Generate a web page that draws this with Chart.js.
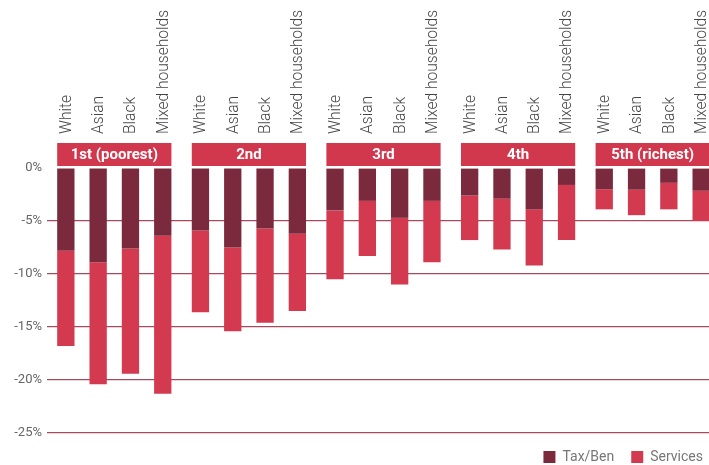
<!DOCTYPE html>
<html>
<head>
<meta charset="utf-8">
<script src="https://cdn.jsdelivr.net/npm/chart.js@4"></script>
<style>
  html, body { margin: 0; padding: 0; overflow: hidden; background: #fff; }
  #wrap { width: 720px; height: 474px; }
</style>
</head>
<body>
<div id="wrap"><canvas id="chart" width="720" height="474"></canvas></div>
<script>
// Quintiles and household groups
const quintiles = ['1st (poorest)', '2nd', '3rd', '4th', '5th (richest)'];
const groups = ['White', 'Asian', 'Black', 'Mixed households'];

// Tax/Ben part of each bar, one value per quintile
const taxBenWhite = [-7.8, -5.9, -4.0, -2.6, -2.0];
const taxBenAsian = [-8.9, -7.5, -3.1, -2.9, -2.05];
const taxBenBlack = [-7.6, -5.7, -4.7, -3.9, -1.4];
const taxBenMixed = [-6.4, -6.2, -3.1, -1.6, -2.15];

// Services part of each bar (stacked below Tax/Ben)
const servicesWhite = [-9.0, -7.7, -6.5, -4.2, -1.9];
const servicesAsian = [-11.5, -7.9, -5.2, -4.8, -2.4];
const servicesBlack = [-11.8, -8.9, -6.3, -5.3, -2.5];
const servicesMixed = [-14.9, -7.3, -5.8, -5.2, -2.85];

const yTicks = [0, -5, -10, -15, -20, -25];

const taxBenColor = '#7a2a3c';
const servicesColor = '#d33a50';
const bandColor = '#d2384d';

const taxBen = [taxBenWhite, taxBenAsian, taxBenBlack, taxBenMixed];
const services = [servicesWhite, servicesAsian, servicesBlack, servicesMixed];

// two datasets per group, stacked on their own
const datasets = [];
groups.forEach(function (g, k) {
  datasets.push({ label: 'Tax/Ben', data: taxBen[k], stack: g, backgroundColor: taxBenColor, borderWidth: 0 });
  datasets.push({ label: 'Services', data: services[k], stack: g, backgroundColor: servicesColor, borderWidth: 0 });
});

// group names above the bars and the quintile bands
const headerPlugin = {
  id: 'headers',
  afterDatasetsDraw(chart) {
    const ctx = chart.ctx;
    const top = chart.chartArea.top;
    ctx.save();
    quintiles.forEach(function (q, j) {
      const first = chart.getDatasetMeta(0).data[j];
      const last = chart.getDatasetMeta(6).data[j];
      const left = first.x - first.width / 2;
      const right = last.x + last.width / 2;
      ctx.fillStyle = bandColor;
      ctx.fillRect(left, top - 25, right - left, 23);
      ctx.fillStyle = '#fff';
      ctx.font = 'bold 15px Roboto';
      ctx.textAlign = 'center';
      ctx.textBaseline = 'middle';
      ctx.fillText(q, (left + right) / 2, top - 13);

      groups.forEach(function (g, k) {
        const bar = chart.getDatasetMeta(2 * k).data[j];
        ctx.save();
        ctx.translate(bar.x + 1, top - 34);
        ctx.rotate(-Math.PI / 2);
        ctx.textAlign = 'left';
        ctx.textBaseline = 'middle';
        ctx.fillStyle = '#444';
        ctx.font = '300 15.6px Roboto';
        ctx.fillText(g, 0, 0);
        ctx.restore();
      });
    });
    ctx.restore();
  }
};

new Chart(document.getElementById('chart'), {
  type: 'bar',
  data: { labels: quintiles, datasets: datasets },
  plugins: [headerPlugin],
  options: {
    responsive: false,
    animation: false,
    categoryPercentage: 0.96,
    barPercentage: 0.536,
    layout: { padding: { top: 168, right: 0, left: 0, bottom: 0 } },
    scales: {
      x: { stacked: true, display: false },
      y: {
        stacked: true,
        min: -25,
        max: 0,
        afterBuildTicks: function (axis) {
          axis.ticks = yTicks.map(function (v) { return { value: v }; });
        },
        afterFit: function (axis) { axis.width = 47; },
        border: { display: false },
        grid: {
          drawTicks: false,
          lineWidth: 1.2,
          color: function (c) { return c.tick && c.tick.value === 0 ? 'rgba(0,0,0,0)' : '#a64a5e'; }
        },
        ticks: {
          padding: 5,
          color: '#666',
          font: { family: 'Roboto', size: 13 },
          callback: function (v) { return v + '%'; }
        }
      }
    },
    plugins: {
      tooltip: { enabled: false },
      legend: {
        position: 'bottom',
        align: 'end',
        labels: {
          filter: function (item) { return item.datasetIndex < 2; },
          boxWidth: 12,
          boxHeight: 12,
          padding: 17,
          color: '#777',
          font: { family: 'Roboto', size: 14 }
        }
      }
    }
  }
});
</script>
</body>
</html>
